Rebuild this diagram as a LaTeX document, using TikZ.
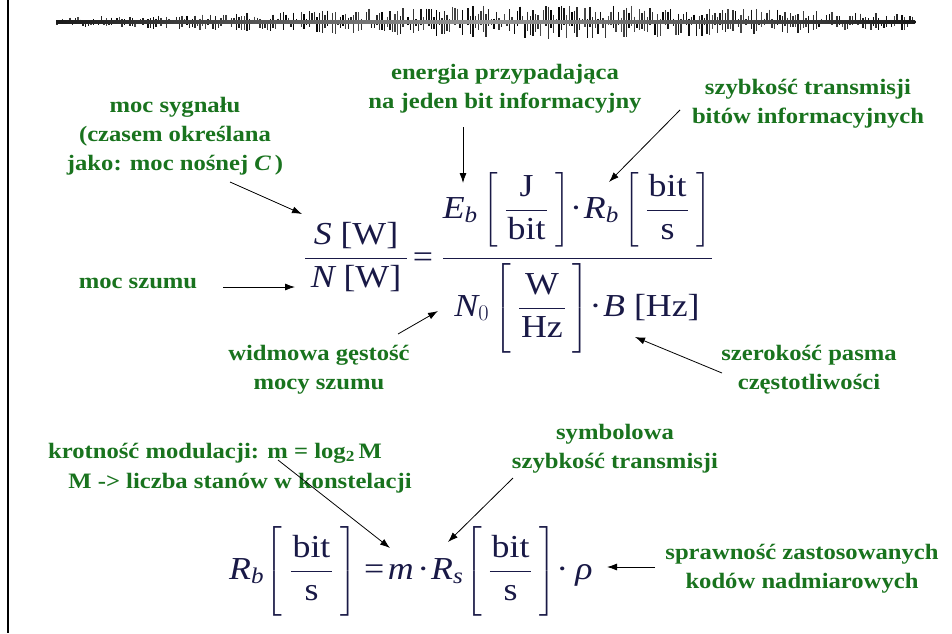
\RequirePackage{fix-cm}
\documentclass[tikz,border=0pt]{standalone}
\usepackage{amsmath}
\usepackage{fontspec}
\setmainfont{Liberation Serif}[FakeStretch=1.12]
\usetikzlibrary{arrows.meta}
\definecolor{lblgreen}{RGB}{25,115,30}
\definecolor{mathnavy}{RGB}{25,25,70}
\newcommand\mv[1]{\textit{#1}}
\newcommand\mdot{\mskip-3mu\text{·}\mskip1mu}
\newcommand\ufrac[4]{\left[\mskip4mu\rule[-#3]{0pt}{#4}\dfrac{\mskip1mu\text{#1}\mskip1mu}{\mskip1mu\text{#2}\mskip1mu}\mskip4mu\right]}
\tikzset{
  lbl/.style={font=\fontsize{22}{29}\selectfont\bfseries, text=lblgreen, align=center, inner sep=0pt},
  eqn/.style={font=\fontsize{32}{40}\selectfont, text=mathnavy, inner sep=0pt},
  fracbar/.style={line width=1.4pt, draw=mathnavy},
  arr/.style={-{Latex[length=10pt,width=7pt]}, line width=0.8pt, draw=black},
}
\begin{document}
\begin{tikzpicture}[x=1pt,y=-1pt]
\useasboundingbox (0,0) rectangle (952,633);
\fill[white] (0,0) rectangle (952,633);
% left border line
\draw[line width=2.6pt] (8,0) -- (8,633);
% noise signal
\pgfmathsetseed{4242}
\foreach \i in {0,...,330}{
  \pgfmathsetmacro{\xx}{57+2.6*\i}
  \pgfmathsetmacro{\dd}{abs(\xx-560)/320}
  \pgfmathsetmacro{\env}{4+13*exp(-\dd*\dd)}
  \pgfmathsetmacro{\up}{\env*rnd}
  \pgfmathsetmacro{\dn}{\env*rnd}
  \pgfmathtruncatemacro{\gr}{70+30*rnd}
  \draw[line width=1.4pt, black!\gr] (\xx,22-\up) -- (\xx,22+\dn);
}
\shade[left color=black!90,right color=black!90,middle color=black!40] (56,20.5) rectangle (915,23.5);
% formula 1
\node[eqn, anchor=base] (snr) at (356,266)
 {$\dfrac{\,\mv{S}\;\text{[W]}\,}{\,\mv{N}\;\text{[W]}\,}$};
\node[eqn, anchor=base] (eqs) at (423,267) {=};
\node[eqn, anchor=base] (num) at (577,218)
 {$\mv{E}_{\mv{b}}\ufrac{J}{bit}{30pt}{76pt}\mdot\mv{R}_{\mv{b}}\ufrac{bit}{s}{30pt}{76pt}$};
\node[eqn, anchor=base] (den) at (577,316)
 {$\mv{N}_{0}\ufrac{W}{Hz}{34pt}{84pt}\mdot\mv{B}\;\text{[Hz]}$};
\draw[fracbar] (443,258.5) -- (712,258.5);
% formula 2
\node[eqn, anchor=base west] (eq2) at (229,579)
 {$\mv{R}_{\mv{b}}\mskip-2mu\ufrac{bit}{s}{34pt}{84pt}\mskip1mu\text{=}\mskip2mu\mv{m}\mskip5mu\mdot\mv{R}_{\mv{s}}\mskip-2mu\ufrac{bit}{s}{34pt}{84pt}\mdot\mskip3mu\mv{ρ}$};
% labels
\node[lbl] (sig) at (175,136) {moc sygnału\\(czasem określana\\jako: moc nośnej \textit{C}\,)};
\node[lbl] (noise) at (138,283) {moc szumu};
\node[lbl] (energy) at (505,89) {energia przypadająca\\na jeden bit informacyjny};
\node[lbl] (rate) at (808,104) {szybkość transmisji\\bitów informacyjnych};
\node[lbl] (psd) at (319,370) {widmowa gęstość\\mocy szumu};
\node[lbl] (bw) at (809,370) {szerokość pasma\\częstotliwości};
\node[lbl] (sym) at (615,449) {symbolowa\\szybkość transmisji};
\node[lbl] (mod1) at (215,453) {krotność modulacji: m = log\textsubscript{2}\,M};
\node[lbl] (mod2) at (240,483) {M -> liczba stanów w konstelacji};
\node[lbl] (eff) at (802,569) {sprawność zastosowanych\\kodów nadmiarowych};
% arrow end points
\coordinate (a1s) at (230,182); \coordinate (a1e) at (302,214);
\coordinate (a2s) at (223,287); \coordinate (a2e) at (295,287);
\coordinate (a3s) at (463,127); \coordinate (a3e) at (463,183);
\coordinate (a4s) at (680,110); \coordinate (a4e) at (609,182);
\coordinate (a5s) at (398,334); \coordinate (a5e) at (438,311);
\coordinate (a6s) at (722,373); \coordinate (a6e) at (635,337);
\coordinate (a7s) at (278,460); \coordinate (a7e) at (390,548);
\coordinate (a8s) at (513,478); \coordinate (a8e) at (448,542);
\coordinate (a9s) at (655,567); \coordinate (a9e) at (607,567);
\foreach \k in {1,...,9}{\draw[arr] (a\k s) -- (a\k e);}
\end{tikzpicture}
\end{document}
